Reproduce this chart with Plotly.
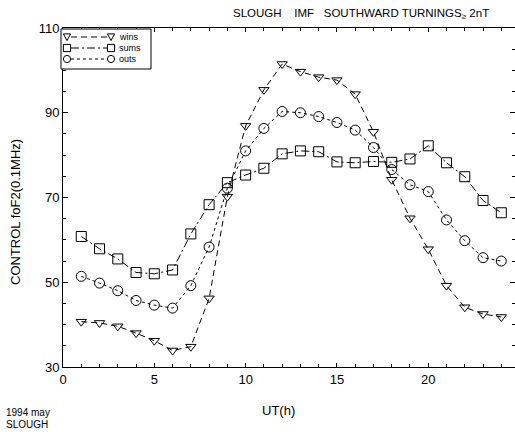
import plotly.graph_objects as go

hours = list(range(1, 25))
wins = [40.7, 40.4, 39.6, 38.0, 36.2, 33.9, 34.8, 46.2, 70.2, 86.9, 95.4, 101.5,
        99.7, 98.4, 97.7, 94.4, 85.5, 74.2, 65.1, 57.8, 49.2, 44.1, 42.5, 41.8]
sums = [60.8, 57.9, 55.5, 52.3, 52.0, 52.9, 61.4, 68.3, 73.5, 75.3, 76.9, 80.3,
        81.0, 80.8, 78.4, 78.2, 78.5, 78.3, 79.1, 82.2, 78.2, 74.9, 69.3, 66.4]
outs = [51.4, 49.8, 48.0, 45.7, 44.6, 43.9, 49.2, 58.3, 72.2, 81.0, 86.3, 90.3,
        90.0, 89.1, 87.7, 85.9, 81.8, 76.6, 73.0, 71.4, 64.7, 59.8, 55.8, 55.0]
series_names = ["wins", "sums", "outs"]

x_ticks = [0, 5, 10, 15, 20]
y_ticks = [30, 50, 70, 90, 110]

FONT = "Liberation Sans Narrow, Arial Narrow, Liberation Sans, Arial, sans-serif"
W, H = 515, 432
L, R, T, B = 63, 0, 28, 65
PW, PH = W - L - R, H - T - B

dashes = ["6px,4px", "8px,3px,2px,3px", "3px,3px"]
symbols = ["triangle-down-open", "square-open", "circle-open"]
sizes = [9, 10, 10]

fig = go.Figure()
for name, ys, d, s, sz in zip(series_names, [wins, sums, outs], dashes, symbols, sizes):
    fig.add_trace(go.Scatter(x=hours, y=ys, name=name, mode="lines+markers",
                             showlegend=False,
                             line=dict(color="black", width=1, dash=d),
                             marker=dict(symbol=s, size=sz, color="black",
                                         line=dict(width=1))))

axis_common = dict(showgrid=False, zeroline=False, showline=True, linecolor="black",
                   linewidth=1, mirror="ticks", ticks="inside", tickcolor="black",
                   tickfont=dict(family=FONT, size=13, color="black"))

fig.update_xaxes(range=[0, 24.75], tickvals=x_ticks, ticklen=4,
                 minor=dict(dtick=1, ticks="inside", ticklen=3, tickcolor="black"),
                 **axis_common)
fig.update_yaxes(range=[30, 110], tickvals=y_ticks, ticklen=5,
                 minor=dict(dtick=5, ticks="inside", ticklen=3, tickcolor="black"),
                 **axis_common)


def px(xp):
    return (xp - L) / PW


def py(yp):
    return (H - B - yp) / PH


# custom legend box (pixel layout converted to paper coords)
shapes = [dict(type="rect", xref="paper", yref="paper",
               x0=px(61), x1=px(151), y0=py(69), y1=py(29),
               line=dict(color="black", width=1), fillcolor="white", layer="above")]
annotations = []
rows = [37, 48, 59]
xa, xb = 67, 111
for i, (name, d) in enumerate(zip(series_names, dashes)):
    yy = rows[i]
    shapes.append(dict(type="line", xref="paper", yref="paper",
                       x0=px(xa + 4), x1=px(xb - 4), y0=py(yy), y1=py(yy),
                       line=dict(color="black", width=1, dash=d), layer="above"))
    for cx in (xa, xb):
        r = 3.6
        if i == 0:
            path = "M {},{} L {},{} L {},{} Z".format(
                px(cx - r), py(yy - r + 0.5), px(cx + r), py(yy - r + 0.5), px(cx), py(yy + r))
            shapes.append(dict(type="path", xref="paper", yref="paper", path=path,
                               line=dict(color="black", width=1), fillcolor="white",
                               layer="above"))
        elif i == 1:
            shapes.append(dict(type="rect", xref="paper", yref="paper",
                               x0=px(cx - r), x1=px(cx + r), y0=py(yy + r), y1=py(yy - r),
                               line=dict(color="black", width=1), fillcolor="white",
                               layer="above"))
        else:
            shapes.append(dict(type="circle", xref="paper", yref="paper",
                               x0=px(cx - r), x1=px(cx + r), y0=py(yy + r), y1=py(yy - r),
                               line=dict(color="black", width=1), fillcolor="white",
                               layer="above"))
    annotations.append(dict(text=name, xref="paper", yref="paper", x=px(117), y=py(yy),
                            xanchor="left", yanchor="middle", showarrow=False,
                            font=dict(family=FONT, size=9, color="black")))

annotations += [
    dict(text="SLOUGH&nbsp;&nbsp;&nbsp;&nbsp;IMF&nbsp;&nbsp;&nbsp;SOUTHWARD TURNINGS<sub>≥</sub> 2nT",
         xref="paper", yref="paper", x=px(491), y=py(14), xanchor="right", yanchor="middle",
         showarrow=False, font=dict(family=FONT, size=11.5, color="black")),
    dict(text="CONTROL foF2(0.1MHz)", xref="paper", yref="paper", x=px(15), y=py(212),
         xanchor="center", yanchor="middle", textangle=-90, showarrow=False,
         font=dict(family=FONT, size=13, color="black")),
    dict(text="UT(h)", xref="paper", yref="paper", x=px(278), y=py(410),
         xanchor="center", yanchor="middle", showarrow=False,
         font=dict(family=FONT, size=13, color="black")),
    dict(text="1994 may", xref="paper", yref="paper", x=px(4), y=py(412),
         xanchor="left", yanchor="middle", showarrow=False,
         font=dict(family=FONT, size=10, color="black")),
    dict(text="SLOUGH", xref="paper", yref="paper", x=px(4), y=py(424),
         xanchor="left", yanchor="middle", showarrow=False,
         font=dict(family=FONT, size=10, color="black")),
]

fig.update_layout(
    width=W, height=H,
    margin=dict(l=L, r=R, t=T, b=B),
    paper_bgcolor="white", plot_bgcolor="white",
    font=dict(family=FONT, color="black"),
    showlegend=False,
    shapes=shapes,
    annotations=annotations,
)

fig.write_html("out.html")
